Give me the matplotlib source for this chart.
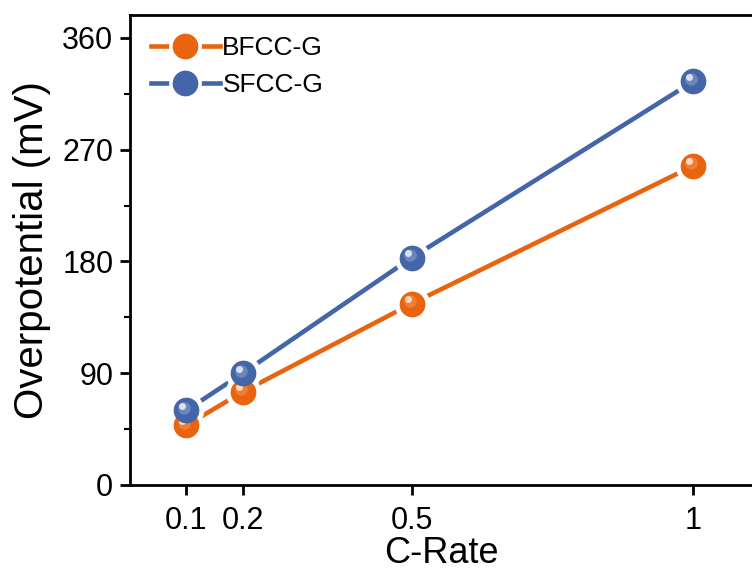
import matplotlib
matplotlib.use("Agg")
import matplotlib.pyplot as plt
from matplotlib.lines import Line2D
from matplotlib.legend_handler import HandlerTuple
import matplotlib.transforms as mtransforms
from matplotlib.ticker import MultipleLocator

plt.rcParams['font.family'] = ['Liberation Sans', 'DejaVu Sans']

c_rate = [0.1, 0.2, 0.5, 1.0]
bfcc_g = [48, 75, 146, 257]
sfcc_g = [60, 90, 183, 325]
series_names = ["BFCC-G", "SFCC-G"]
xtick_vals = [0.1, 0.2, 0.5, 1.0]
xtick_labels = ["0.1", "0.2", "0.5", "1"]
ytick_vals = [0, 90, 180, 270, 360]

orange = "#E8640F"
blue = "#4466A8"
orange_mid = "#F28A45"
blue_mid = "#7C95C6"
orange_hi = "#FFE3CF"
blue_hi = "#E6ECF7"

fig = plt.figure(figsize=(7.52, 5.71), dpi=100)
ax = fig.add_axes([130/752, 1-485/571, 1-130/752+0.002, (485-15)/571])

ms = 17.5
for ys, col in [(bfcc_g, orange), (sfcc_g, blue)]:
    ax.plot(c_rate, ys, color=col, lw=3.3, solid_capstyle='butt', zorder=2)
for ys in [bfcc_g, sfcc_g]:
    ax.plot(c_rate, ys, ls='none', marker='o', ms=ms+7, color='white', zorder=3)
mid_tr = mtransforms.offset_copy(ax.transData, fig=fig, x=-1.5, y=1.8, units='points')
hi_tr = mtransforms.offset_copy(ax.transData, fig=fig, x=-2.8, y=3.4, units='points')
z = 4
for ys, col, mid, hi in [(bfcc_g, orange, orange_mid, orange_hi), (sfcc_g, blue, blue_mid, blue_hi)]:
    ax.plot(c_rate, ys, ls='none', marker='o', ms=ms, color=col, mec=col, zorder=z)
    ax.plot(c_rate, ys, ls='none', marker='o', ms=9, color=mid, mec='none', alpha=0.7,
            transform=mid_tr, zorder=z+0.3)
    ax.plot(c_rate, ys, ls='none', marker='o', ms=5, color=hi, mec='none', alpha=0.9,
            transform=hi_tr, zorder=z+0.6)
    z += 1

ax.set_xlim(0, 1.107)
ax.set_ylim(0, 378.5)
ax.set_xticks(xtick_vals)
ax.set_xticklabels(xtick_labels)
ax.set_yticks(ytick_vals)
ax.yaxis.set_minor_locator(MultipleLocator(45))
ax.tick_params(axis='both', which='major', direction='out', length=7, width=2, labelsize=22)
ax.tick_params(axis='x', which='major', pad=8)
ax.tick_params(axis='y', which='major', pad=5)
ax.tick_params(axis='y', which='minor', direction='out', length=4, width=1.5)
for sp in ax.spines.values():
    sp.set_linewidth(2)
ax.spines['right'].set_visible(False)
ax.set_xlabel("C-Rate", fontsize=26, labelpad=0)
ax.set_ylabel("Overpotential (mV)", fontsize=29, labelpad=8)

def handle(col):
    ln = Line2D([], [], color=col, lw=3.3)
    wh = Line2D([], [], ls='none', marker='o', ms=ms+5, color='white')
    mk = Line2D([], [], ls='none', marker='o', ms=ms, color=col)
    return (ln, wh, mk)

leg = ax.legend([handle(orange), handle(blue)], series_names,
                handler_map={tuple: HandlerTuple(ndivide=1, pad=0)},
                loc='upper left', bbox_to_anchor=(0.0, 1.0), frameon=False, numpoints=1,
                fontsize=19, handlelength=2.6, handletextpad=0.1, labelspacing=0.5,
                borderaxespad=0.4)

fig.savefig("out.png", dpi=100)
